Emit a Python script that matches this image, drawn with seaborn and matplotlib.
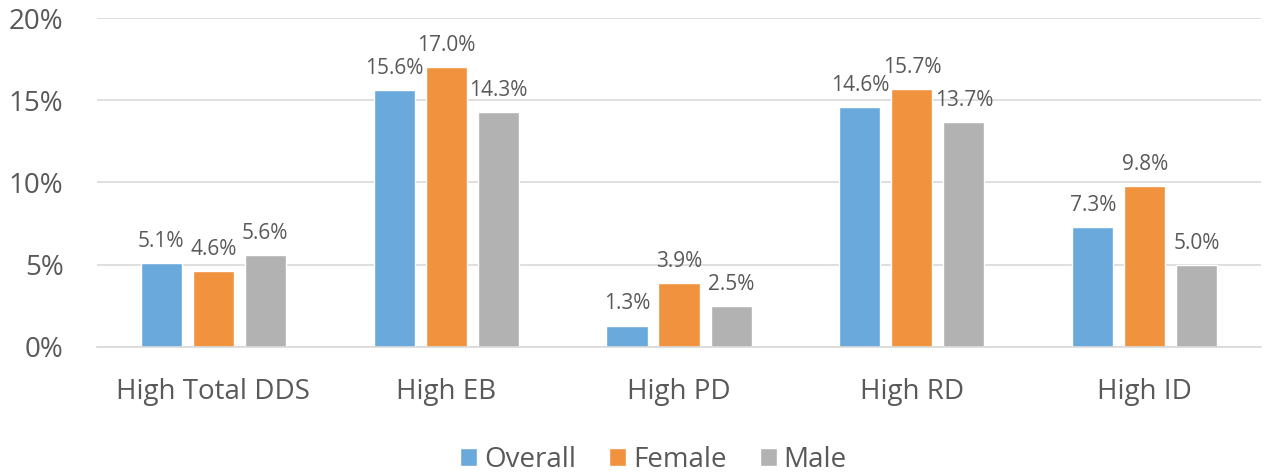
import matplotlib
matplotlib.use("Agg")
import matplotlib.pyplot as plt
import seaborn as sns
import pandas as pd
from matplotlib.ticker import FuncFormatter

categories = ["High Total DDS", "High EB", "High PD", "High RD", "High ID"]
overall = [5.1, 15.6, 1.3, 14.6, 7.3]
female = [4.6, 17.0, 3.9, 15.7, 9.8]
male = [5.6, 14.3, 2.5, 13.7, 5.0]
series = ["Overall", "Female", "Male"]
colors = ["#6AA9DC", "#F1923F", "#B2B2B2"]

rows = []
for s, vals in zip(series, [overall, female, male]):
    for c, v in zip(categories, vals):
        rows.append({"Category": c, "Series": s, "Value": v})
df = pd.DataFrame(rows)

sns.set_theme(style="white")
plt.rcParams["font.family"] = ["Open Sans", "DejaVu Sans"]
txt = "#595959"

fig, ax = plt.subplots(figsize=(12.74, 4.74), dpi=100)
fig.subplots_adjust(left=0.076, right=0.99, top=0.962, bottom=0.268)

sns.barplot(data=df, x="Category", y="Value", hue="Series", palette=colors,
            width=0.67, gap=0.21, ax=ax, saturation=1)

ax.set_ylim(0, 20)
ax.set_yticks([0, 5, 10, 15, 20])
ax.yaxis.set_major_formatter(FuncFormatter(lambda v, p: f"{v:.0f}%"))
ax.yaxis.grid(True, color="#D9D9D9", linewidth=1.2)
ax.set_axisbelow(True)
for sp in ["top", "right", "left"]:
    ax.spines[sp].set_visible(False)
ax.spines["bottom"].set_color("#D9D9D9")
ax.spines["bottom"].set_linewidth(1.2)
ax.set_xlabel("")
ax.set_ylabel("")
ax.tick_params(axis="y", labelsize=20, colors=txt, length=0, pad=24)
ax.tick_params(axis="x", labelsize=20, colors=txt, length=0, pad=22)

for cont in ax.containers:
    ax.bar_label(cont, labels=[f"{b.get_height():.1f}%" for b in cont],
                 padding=8, fontsize=15, color=txt)

leg = ax.legend(loc="center", bbox_to_anchor=(0.513, 0.03),
                bbox_transform=fig.transFigure, ncol=3,
                frameon=False, fontsize=20, handlelength=0.6, handleheight=0.6,
                handletextpad=0.25, columnspacing=1.2, labelcolor=txt)

fig.savefig("out.png", dpi=100)
